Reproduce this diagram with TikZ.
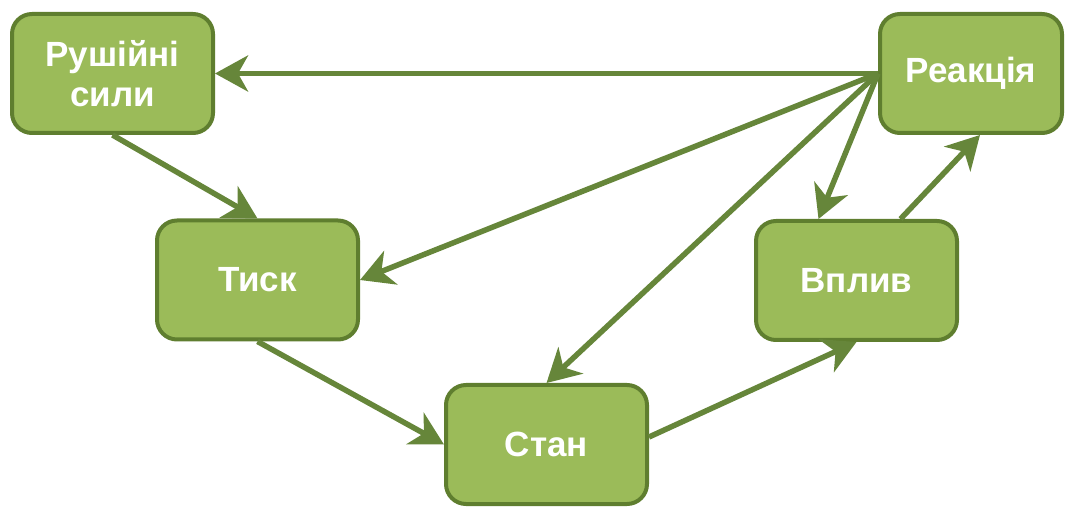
\documentclass[tikz,border=0pt]{standalone}
\usepackage{fontspec}
\setmainfont{Liberation Sans}
\usetikzlibrary{arrows.meta}
\definecolor{boxfill}{HTML}{9BBB59}
\definecolor{boxline}{HTML}{5F7E2F}
\definecolor{arrowc}{HTML}{66863A}
\begin{document}
\begin{tikzpicture}[x=1pt,y=-1pt,
  stepbox/.style={draw=boxline, line width=4pt, fill=boxfill, rounded corners=20pt,
    minimum width=201pt, minimum height=119pt, text=white, align=center, inner sep=0pt,
    font=\bfseries\fontsize{35}{40}\selectfont},
  link/.style={draw=arrowc, line width=5.5pt,
    -{Stealth[length=33pt,width=36pt,inset=10pt]}}]
\useasboundingbox (0,0) rectangle (1076,510);

% boxes
\node[stepbox] (drv) at (112.5,73.5) {Рушійні\\сили};
\node[stepbox, minimum width=182pt] (react) at (971,73.5) {Реакція};
\node[stepbox] (tysk) at (257.5,280) {Тиск};
\node[stepbox] (vplyv) at (856.5,280.5) {Вплив};
\node[stepbox] (stan) at (546.5,444.5) {Стан};

% connectors
\draw[link] (react.west) -- (drv.east);
\draw[link] (drv.south) -- (tysk.north);
\draw[link] (react.west) -- (tysk.east);
\draw[link] (react.west) -- (stan.north);
\draw[link] (react.west) -- ([xshift=-38pt]vplyv.north);
\draw[link] ([xshift=44pt]vplyv.north) -- ([xshift=9pt]react.south);
\draw[link] (tysk.south) -- (stan.west);
\draw[link] ([yshift=7.5pt]stan.east) -- (vplyv.south);
\end{tikzpicture}
\end{document}
